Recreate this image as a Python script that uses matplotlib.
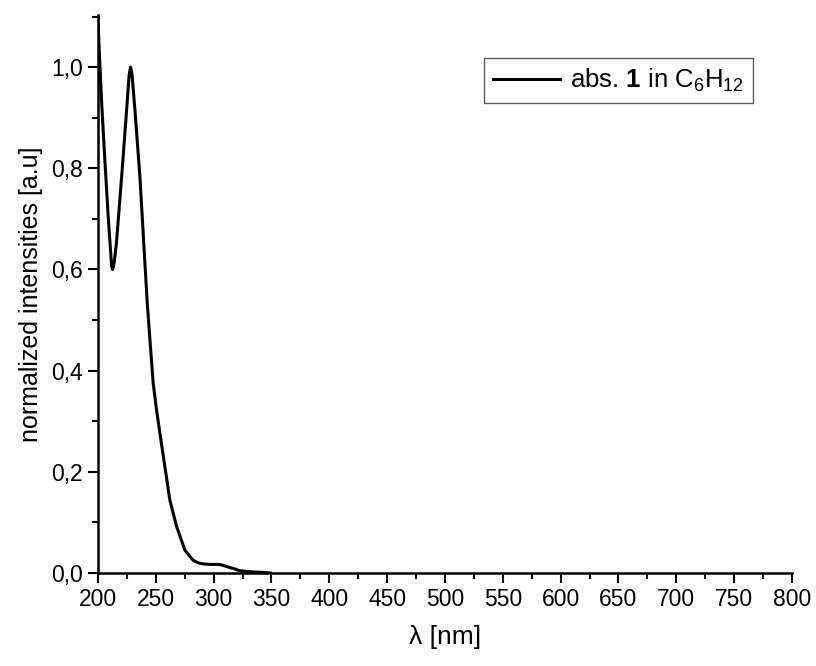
import matplotlib
matplotlib.use('Agg')
import matplotlib.pyplot as plt
from matplotlib.ticker import MultipleLocator, FuncFormatter

plt.rcParams['font.family'] = ['Liberation Sans', 'DejaVu Sans']
plt.rcParams['mathtext.fontset'] = 'custom'
plt.rcParams['mathtext.rm'] = 'Liberation Sans'
plt.rcParams['mathtext.sf'] = 'Liberation Sans'
plt.rcParams['mathtext.it'] = 'Liberation Sans:italic'
plt.rcParams['mathtext.bf'] = 'Liberation Sans:bold'

# wavelength (nm) and normalized absorbance
wavelength = [200, 201, 203.1, 206, 208.9, 211.8, 212.7, 214, 216, 220.5, 224.8,
              227, 228.2, 229.5, 232, 236.3, 239.8, 242.6, 245, 247.8, 250.5,
              253.6, 257.9, 262.2, 268, 275.2, 282.4, 287, 291, 298, 305.4,
              311, 317, 322, 328.5, 335, 345.7, 349]
absorbance = [1.10, 1.04, 0.935, 0.816, 0.704, 0.608, 0.600, 0.613, 0.652, 0.783, 0.915,
              0.985, 1.0, 0.985, 0.915, 0.783, 0.645, 0.535, 0.46, 0.375, 0.325,
              0.276, 0.21, 0.144, 0.092, 0.045, 0.025, 0.02, 0.018, 0.017, 0.017,
              0.013, 0.009, 0.005, 0.003, 0.002, 0.001, 0.0]

legendLabel = r'abs. $\mathbf{1}$ in C$_{6}$H$_{12}$'

fig = plt.figure(figsize=(8.16, 6.66), dpi=100)
ax = fig.add_axes([0.120, 0.1396, 0.8506, 0.8379])

ax.plot(wavelength, absorbance, color='black', linewidth=2.2, label=legendLabel)

ax.set_xlim(200, 800)
ax.set_ylim(0, 1.103)

ax.xaxis.set_major_locator(MultipleLocator(50))
ax.xaxis.set_minor_locator(MultipleLocator(25))
ax.yaxis.set_major_locator(MultipleLocator(0.2))
ax.yaxis.set_minor_locator(MultipleLocator(0.1))
ax.yaxis.set_major_formatter(FuncFormatter(lambda v, p: ('%.1f' % v).replace('.', ',')))

for s in ['top', 'right']:
    ax.spines[s].set_visible(False)
for s in ['left', 'bottom']:
    ax.spines[s].set_linewidth(1.8)

ax.tick_params(which='major', direction='out', length=7, width=1.5, labelsize=16.5, pad=4)
ax.tick_params(which='minor', direction='out', length=4.5, width=1.5)

ax.set_xlabel('λ [nm]', fontsize=19, labelpad=10)
ax.set_ylabel('normalized intensities [a.u]', fontsize=18, labelpad=6)

leg = ax.legend(loc='upper right', bbox_to_anchor=(0.944, 0.923), fontsize=18.5,
                frameon=True, fancybox=False, handlelength=2.6, handletextpad=0.4,
                borderpad=0.35, borderaxespad=0.0)
leg.get_frame().set_edgecolor('#333333')
leg.get_frame().set_linewidth(1.0)

fig.savefig('out.png', dpi=100)
